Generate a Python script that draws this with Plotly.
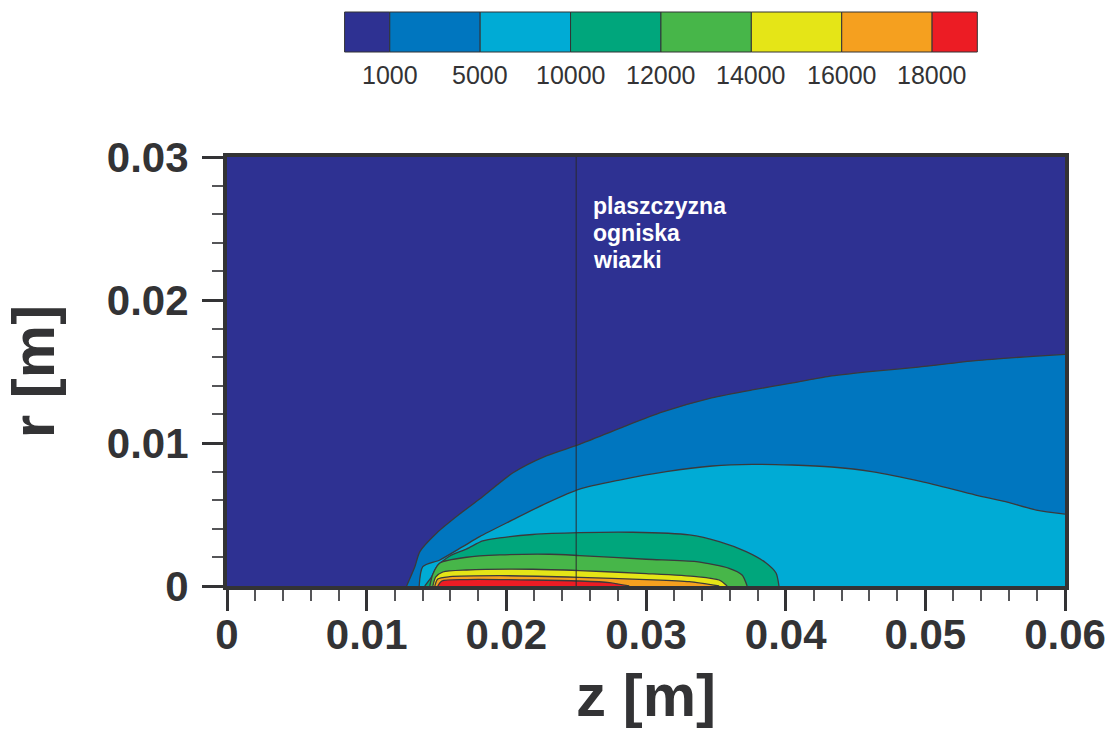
import plotly.graph_objects as go

# Temperature levels (K) separating the colour bands
LEVELS = [1000, 5000, 10000, 12000, 14000, 16000, 18000]
BAND_COLORS = ["#2E3192", "#0076BF", "#00ABD5", "#00A67C",
               "#47B649", "#E5E517", "#F5A01F", "#EC1C24"]

# Iso-lines of the field: axial position z [m] and radius r [m]
Z_1000 = [0.01286, 0.01345, 0.01381, 0.0150, 0.01666, 0.01809, 0.02045, 0.02286,
          0.02524, 0.0283, 0.0312, 0.0347, 0.0376, 0.0405, 0.0433, 0.0464,
          0.0495, 0.0536, 0.0580, 0.0600]
R_1000 = [0.0, 0.00135, 0.0024, 0.00369, 0.00503, 0.00608, 0.0079, 0.0091,
          0.0099, 0.0111, 0.01217, 0.01315, 0.01371, 0.0142, 0.01469, 0.01503,
          0.01531, 0.01576, 0.01608, 0.0162]

Z_5000 = [0.01376, 0.01402, 0.01524, 0.01688, 0.01809, 0.02045, 0.02288, 0.02524,
          0.0281, 0.03145, 0.03474, 0.0376, 0.04045, 0.0433, 0.04616, 0.04974,
          0.0536, 0.05574, 0.05795, 0.0600]
R_5000 = [0.0, 0.00135, 0.00182, 0.00275, 0.00345, 0.00462, 0.0058, 0.00678,
          0.00741, 0.0080, 0.00839, 0.00851, 0.00846, 0.00832, 0.0080, 0.0073,
          0.00636, 0.0059, 0.00531, 0.00503]

Z_10000 = [0.01416, 0.01466, 0.01502, 0.01595, 0.01716, 0.01831, 0.01952, 0.02188,
           0.02524, 0.02903, 0.0331, 0.03524, 0.03717, 0.0386, 0.03931, 0.03952]
R_10000 = [0.0, 0.00065, 0.00135, 0.0021, 0.00259, 0.00315, 0.00336, 0.0036,
           0.00373, 0.00376, 0.00357, 0.0031, 0.0024, 0.00161, 0.00091, 0.0]

Z_12000 = [0.01452, 0.01474, 0.01524, 0.01716, 0.01952, 0.02309, 0.02524, 0.03002,
           0.0336, 0.03595, 0.03688, 0.03724]
R_12000 = [0.0, 0.00084, 0.00161, 0.00201, 0.00217, 0.00222, 0.00213, 0.00187,
           0.0017, 0.00124, 0.00077, 0.0]

Z_14000 = [0.01474, 0.01495, 0.01545, 0.01716, 0.02188, 0.02524, 0.03002, 0.0336,
           0.03524, 0.03581]
R_14000 = [0.0, 0.00063, 0.00098, 0.00112, 0.00117, 0.00108, 0.00087, 0.00066,
           0.00042, 0.0]

Z_16000 = [0.01488, 0.01509, 0.01595, 0.01952, 0.02524, 0.03002, 0.0331, 0.03524]
R_16000 = [0.0, 0.00049, 0.00065, 0.00072, 0.00061, 0.00045, 0.0003, 0.0]

Z_18000 = [0.01509, 0.01538, 0.01716, 0.02188, 0.02524, 0.02738, 0.0288]
R_18000 = [0.0, 0.00035, 0.00045, 0.00042, 0.00035, 0.00024, 0.0]

ISO_Z = [Z_1000, Z_5000, Z_10000, Z_12000, Z_14000, Z_16000, Z_18000]
ISO_R = [R_1000, R_5000, R_10000, R_12000, R_14000, R_16000, R_18000]

FOCAL_PLANE_Z = 0.025
FOCAL_LABEL = ["plaszczyzna", "ogniska", "wiazki"]
Z_RANGE = [0, 0.06]
R_RANGE = [0, 0.03]

INK = "#333335"
FONT = "Liberation Sans, Arial, sans-serif"

# page geometry (pixels)
W, H = 1118, 735
PLOT_L, PLOT_R, PLOT_T, PLOT_B = 227, 1068, 157, 586


def paper_x(px):
    return (px - PLOT_L) / (PLOT_R - PLOT_L)


def paper_y(py):
    return (PLOT_B - py) / (PLOT_B - PLOT_T)


fig = go.Figure()

# filled bands, drawn from the coolest outer band to the hot core
for zs, rs, color in zip(ISO_Z, ISO_R, BAND_COLORS[1:]):
    fig.add_trace(go.Scatter(
        x=zs, y=rs, mode="lines", fill="tozeroy", fillcolor=color,
        line=dict(color="#3a3a3c", width=1.3, shape="spline", smoothing=0.7),
        showlegend=False, hoverinfo="skip"))

# discrete colour key above the plot: half-width end boxes,
# level labels on the box boundaries
BAR_L, BAR_R, BAR_T, BAR_B = 345, 980, 12, 52
n_lev = len(LEVELS)
unit = (BAR_R - BAR_L) / n_lev
bounds = [BAR_L] + [BAR_L + unit * (k + 0.5) for k in range(n_lev)] + [BAR_R]
for i, c in enumerate(BAND_COLORS):
    fig.add_shape(type="rect", xref="paper", yref="paper",
                  x0=paper_x(bounds[i]), x1=paper_x(bounds[i + 1]),
                  y0=paper_y(BAR_B), y1=paper_y(BAR_T),
                  fillcolor=c, line=dict(color=INK, width=1), layer="above")
for k, lev in enumerate(LEVELS):
    fig.add_annotation(xref="paper", yref="paper",
                       x=paper_x(bounds[k + 1]), y=paper_y(75),
                       xanchor="center", yanchor="middle", showarrow=False,
                       text=str(lev), font=dict(family=FONT, size=25, color=INK))

# focal plane marker
fig.add_shape(type="line", xref="x", yref="paper",
              x0=FOCAL_PLANE_Z, x1=FOCAL_PLANE_Z, y0=0, y1=1,
              line=dict(color="#2a2a2e", width=1))

for j, word in enumerate(FOCAL_LABEL):
    fig.add_annotation(
        x=0.0261, y=paper_y(206 + 27 * j), xref="x", yref="paper",
        xanchor="left", yanchor="middle", text=word, showarrow=False,
        borderpad=0, font=dict(family=FONT, size=23, color="white", weight="bold"))

axis_common = dict(
    showline=True, linewidth=4, linecolor=INK, mirror=True,
    ticks="outside", ticklen=21, tickwidth=3, tickcolor=INK,
    showgrid=False, zeroline=False, dtick=0.01,
    tickfont=dict(family=FONT, size=42, color=INK, weight="bold"),
    minor=dict(ticks="outside", dtick=0.002, ticklen=11, tickwidth=2,
               tickcolor="#555558", showgrid=False),
)

fig.update_layout(
    width=W, height=H, autosize=False,
    margin=dict(l=PLOT_L, r=W - PLOT_R, t=PLOT_T, b=H - PLOT_B),
    paper_bgcolor="white", plot_bgcolor=BAND_COLORS[0],
    xaxis=dict(range=Z_RANGE, **axis_common, ticklabelstandoff=-12,
               title=dict(text="z [m]", standoff=18,
                          font=dict(family=FONT, size=60, color=INK, weight="bold"))),
    yaxis=dict(range=R_RANGE, **axis_common, ticklabelstandoff=5,
               title=dict(text="r [m]", standoff=36,
                          font=dict(family=FONT, size=60, color=INK, weight="bold"))),
)

fig.write_html("out.html")
